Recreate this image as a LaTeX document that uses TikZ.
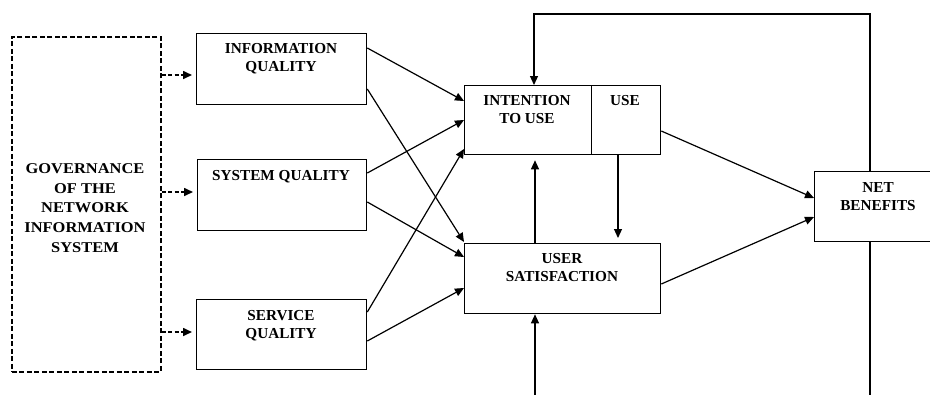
\documentclass[tikz,border=0pt]{standalone}
\usepackage{fontspec}
\setmainfont{Liberation Serif}
\newfontfamily\govfont[FakeStretch=1.1]{Liberation Serif}
\usetikzlibrary{arrows.meta,calc}
\begin{document}
\begin{tikzpicture}[x=1bp,y=-1bp,
 box/.style={draw, line width=1.3bp, inner sep=0, anchor=north west},
 lbl/.style={inner sep=0, anchor=north, align=center, font=\fontsize{15.3}{18.5}\selectfont\bfseries},
 arr/.style={line width=1.2bp, -{Triangle[length=9bp,width=8bp]}},
 line/.style={line width=1.2bp},
 darr/.style={line width=1.6bp, dash pattern=on 4bp off 2.5bp, -{Triangle[length=9bp,width=8bp]}, shorten >=4bp},
]
\clip (0,0) rectangle (930,394);
\fill[white] (0,0) rectangle (930,394);

% boxes
\node[box, line width=1.7bp, dash pattern=on 5bp off 2.5bp, minimum width=149bp, minimum height=335bp] (gov) at (11,36) {};
\node[box, minimum width=170bp, minimum height=71bp] (iq) at (196,33) {};
\node[box, minimum width=169bp, minimum height=71bp] (sq) at (197,159) {};
\node[box, minimum width=170bp, minimum height=70bp] (svq) at (196,299) {};
\node[box, minimum width=127bp, minimum height=69bp] (itu) at (464,85) {};
\node[box, minimum width=69bp, minimum height=69bp] (use) at (591,85) {};
\node[box, minimum width=196bp, minimum height=70bp] (us) at (464,243) {};
\node[box, minimum width=128bp, minimum height=70bp] (nb) at (814,171) {};

% labels
\node[lbl, font=\govfont\fontsize{15}{20}\selectfont\bfseries] (govt) at (85,163) {GOVERNANCE\\OF THE\\NETWORK\\INFORMATION\\SYSTEM};
\node[lbl] (iqt) at (281,43) {INFORMATION\\QUALITY};
\node[lbl] (sqt) at (281,170) {SYSTEM QUALITY};
\node[lbl] (svqt) at (281,310) {SERVICE\\QUALITY};
\node[lbl] (itut) at (527,95) {INTENTION\\TO USE};
\node[lbl] (uset) at (625,95) {USE};
\node[lbl] (ust) at (562,253) {USER\\SATISFACTION};
\node[lbl] (nbt) at (878,182) {NET\\BENEFITS};

% helper coordinates
\coordinate (g1) at (0,75);
\coordinate (g2) at (0,192);
\coordinate (g3) at (0,332);
\coordinate (topL) at (534,14);
\coordinate (topR) at (870,14);
\coordinate (botL) at (535,400);
\coordinate (botR) at (870,400);
\coordinate (mL) at (535,0);
\coordinate (mR) at (618,0);

% dashed arrows
\draw[darr] (gov.east |- g1) -- (iq.west |- g1);
\draw[darr] (gov.east |- g2) -- (sq.west |- g2);
\draw[darr] (gov.east |- g3) -- (svq.west |- g3);

% solid arrows
\draw[arr] (iq.east |- 0,48) -- (itu.west |- 0,101);
\draw[arr] (iq.east |- 0,89) -- (us.west |- 0,242);
\draw[arr] (sq.east |- 0,173) -- (itu.west |- 0,120);
\draw[arr] (sq.east |- 0,202) -- (us.west |- 0,257);
\draw[arr] (svq.east |- 0,312) -- (itu.west |- 0,149);
\draw[arr] (svq.east |- 0,341) -- (us.west |- 0,288);
\draw[arr] (use.east |- 0,131) -- (nb.west |- 0,198);
\draw[arr] (us.east |- 0,284) -- (nb.west |- 0,217);

\draw[arr, shorten >=5bp] (us.north -| mL) -- (itu.south -| mL);
\draw[arr, shorten >=5bp] (use.south -| mR) -- (us.north -| mR);

% feedback loops
\draw[arr] (nb.north -| topR) -- (topR) -- (topL) -- (itu.north -| topL);
\draw[arr] (botL) -- (us.south -| botL);
\draw[line] (nb.south -| botR) -- (botR);
\end{tikzpicture}
\end{document}
